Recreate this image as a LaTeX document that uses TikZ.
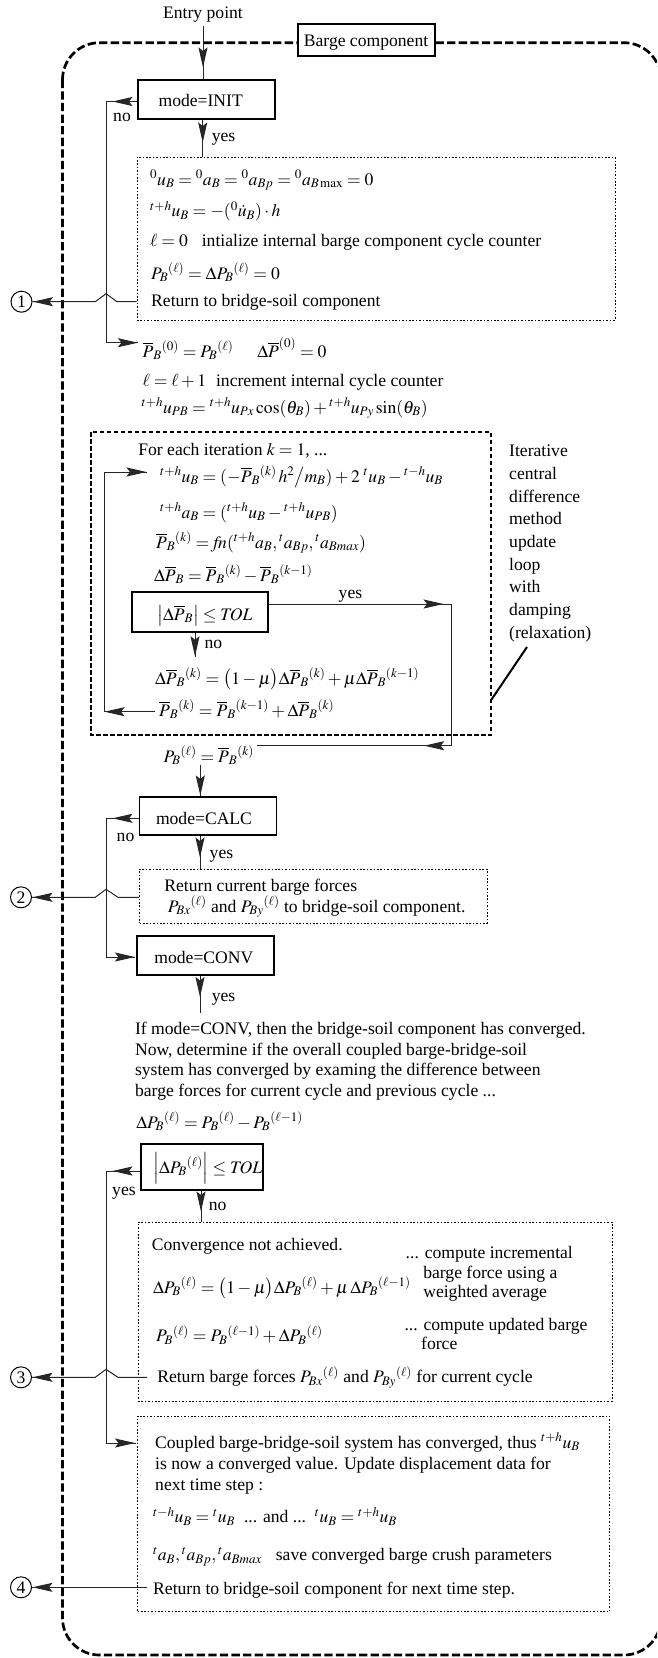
\documentclass[tikz,border=0pt]{standalone}
\usepackage{mathptmx}
\usepackage{fontspec}
\setmainfont{Liberation Serif}
\usetikzlibrary{arrows.meta,decorations.markings,calc}
\newcommand{\myfs}{\fontsize{17.6}{20.5}\selectfont}
\tikzset{
  ah/.style={postaction={decorate,decoration={markings,mark=at position #1 with {\arrow{Stealth[length=20pt,width=9pt,inset=3.5pt]}}}}},
  conn/.style={line width=1pt, black!85},
  tx/.style={anchor=base west, inner sep=0pt},
  sbox/.style={draw, line width=1.1pt, inner sep=0pt},
  dbox/.style={draw, line width=1pt, dash pattern=on 1.6pt off 1.8pt, inner sep=0pt},
  outerdash/.style={draw, line width=2.7pt, dash pattern=on 8.3pt off 3.3pt},
  innerdash/.style={draw, line width=2.8pt, dash pattern=on 4.5pt off 2.5pt},
  circ/.style={circle, draw, line width=1pt, minimum size=21pt, inner sep=0pt},
  every node/.style={font=\myfs}
}
\begin{document}
\begin{tikzpicture}[x=1pt,y=-1pt]
\useasboundingbox (0,0) rectangle (657,1658);
% outer frame
\begin{scope}
\clip (0,0) rectangle (657,1658);
\draw[outerdash, rounded corners=37pt] (62.5,42.7) rectangle (661,1655);
\end{scope}
\node[sbox, fill=white, minimum width=137pt, minimum height=32pt] (barge) at (366.5,40) {};
\node[tx] (bargetx) at (303.7,46.7) {Barge component};
\node[tx, anchor=base] (entry) at (203,18.3) {Entry point};

% boxes
\node[sbox, minimum width=137pt, minimum height=39pt] (init) at (206.5,99.5) {};
\node[tx] (inittx) at (158.4,106.5) {mode=INIT};
\node[dbox, minimum width=478pt, minimum height=163pt] (d1) at (376,238.5) {};
\node[sbox, minimum width=136pt, minimum height=40pt] (tol1) at (200,612) {};
\node[sbox, minimum width=137pt, minimum height=38pt] (calc) at (208,816) {};
\node[tx] (calctx) at (155.8,824) {mode=CALC};
\node[dbox, minimum width=347.5pt, minimum height=54pt] (d2) at (313.25,896) {};
\node[sbox, minimum width=137pt, minimum height=39pt] (conv) at (205.5,955.5) {};
\node[tx] (convtx) at (154.2,963) {mode=CONV};
\node[sbox, minimum width=122pt, minimum height=46pt] (tol2) at (202,1167) {};
\node[dbox, minimum width=474pt, minimum height=179pt] (d3) at (375,1311.5) {};
\node[dbox, minimum width=472pt, minimum height=195.7pt] (d4) at (373.5,1513.85) {};
\draw[innerdash] (91,432) rectangle (491,735);

% circles
\node[circ] (c1) at (21.5,301.7) {1};
\node[circ] (c2) at (21,897.3) {2};
\node[circ] (c3) at (21,1377.3) {3};
\node[circ] (c4) at (21,1587.3) {4};

% box 1 text
\node[tx] (b1) at (150,185) {${}^{0}u_B = {}^{0}a_B = {}^{0}a_{Bp} = {}^{0}a_{B\,\mathrm{max}} = 0$};
\node[tx] (b2) at (150,216.7) {${}^{t+h}u_B = -({}^{0}\dot{u}_B)\cdot h$};
\node[tx] (b3) at (150,246) {$\ell = 0$\hspace{14pt}intialize internal barge component cycle counter};
\node[tx] (b4) at (151,279.3) {$P_B{}^{(\ell)} = \Delta P_B{}^{(\ell)} = 0$};
\node[tx] (b5) at (151,306) {Return to bridge-soil component};

\node[tx] (pbar0) at (142.4,357) {$\overline{P}_B{}^{(0)} = P_B{}^{(\ell)}$\hspace{24pt}$\Delta\overline{P}^{(0)} = 0$};
\node[tx] (cyc) at (142.4,386.7) {$\ell = \ell + 1$\hspace{10pt}increment internal cycle counter};
\node[tx] (upb) at (141.6,413) {${}^{t+h}u_{PB} = {}^{t+h}u_{Px}\cos(\theta_B) + {}^{t+h}u_{Py}\sin(\theta_B)$};

% iteration
\node[tx] (fe) at (138.2,455) {For each iteration $k = 1$, ...};
\node[tx] (it1) at (160,482) {${}^{t+h}u_B = (-\overline{P}_B{}^{(k)}\,h^2\big/ m_B) + 2\;{}^{t}u_B - {}^{t-h}u_B$};
\node[tx] (it2) at (160,518) {${}^{t+h}a_B = ({}^{t+h}u_B - {}^{t+h}u_{PB})$};
\node[tx] (it3) at (155.8,548) {$\overline{P}_B{}^{(k)} = \mathit{fn}({}^{t+h}a_B, {}^{t}a_{Bp}, {}^{t}a_{Bmax})$};
\node[tx] (it4) at (154,581) {$\Delta\overline{P}_B = \overline{P}_B{}^{(k)} - \overline{P}_B{}^{(k-1)}$};
\node[tx] (tol1tx) at (157,620) {$\left|\Delta\overline{P}_B\right| \le \mathit{TOL}$};
\node[tx] (it5) at (155,684) {$\Delta\overline{P}_B{}^{(k)} = \bigl(1-\mu\bigr)\Delta\overline{P}_B{}^{(k)} + \mu\Delta\overline{P}_B{}^{(k-1)}$};
\node[tx] (it6) at (159,716) {$\overline{P}_B{}^{(k)} = \overline{P}_B{}^{(k-1)} + \Delta\overline{P}_B{}^{(k)}$};
\node[tx] (pl) at (163.4,762) {$P_B{}^{(\ell)} = \overline{P}_B{}^{(k)}$};

\foreach \w [count=\i] in {Iterative, central, difference, method, update, loop, with, damping, (relaxation)}
  \node[tx] (s\i) at (509,{456.7+22.7*(\i-1)}) {\w};
\coordinate (ld1) at (527,647);
\coordinate (ld2) at (491.5,699.5);
\draw[line width=2pt] (ld1) -- (ld2);

% box 2
\node[tx] (r2a) at (164.2,891.7) {Return current barge forces};
\node[tx] (r2b) at (167.6,912) {$P_{Bx}{}^{(\ell)}$ and $P_{By}{}^{(\ell)}$ to bridge-soil component.};

% paragraph
\node[tx] (p1) at (134.9,1034) {If mode=CONV, then the bridge-soil component has converged.};
\node[tx] (p2) at (134.9,1055) {Now, determine if the overall coupled barge-bridge-soil};
\node[tx] (p3) at (134.9,1075.5) {system has converged by examing the difference between};
\node[tx] (p4) at (134.9,1096) {barge forces for current cycle and previous cycle ...};
\node[tx] (dpl) at (136.2,1128) {$\Delta P_B{}^{(\ell)} = P_B{}^{(\ell)} - P_B{}^{(\ell-1)}$};
\node[tx] (tol2tx) at (153,1173) {$\left|\Delta P_B{}^{(\ell)}\right| \le \mathit{TOL}$};

% box 3
\node[tx] (q1) at (151.7,1250) {Convergence not achieved.};
\node[tx] (q2) at (405.5,1258) {... compute incremental};
\node[tx] (q3) at (423.1,1278) {barge force using a};
\node[tx] (q4) at (423.1,1297) {weighted average};
\node[tx] (q5) at (152.9,1293) {$\Delta P_B{}^{(\ell)} = \bigl(1-\mu\bigr)\Delta P_B{}^{(\ell)} + \mu\,\Delta P_B{}^{(\ell-1)}$};
\node[tx] (q6) at (404.3,1330) {... compute updated barge};
\node[tx] (q7) at (421,1349) {force};
\node[tx] (q8) at (155.8,1341.7) {$P_B{}^{(\ell)} = P_B{}^{(\ell-1)} + \Delta P_B{}^{(\ell)}$};
\node[tx] (r3) at (157.1,1382.7) {Return barge forces $P_{Bx}{}^{(\ell)}$ and $P_{By}{}^{(\ell)}$ for current cycle};

% box 4
\node[tx] (w1) at (155,1448.3) {Coupled barge-bridge-soil system has converged, thus ${}^{t+h}u_B$};
\node[tx] (w2) at (155,1469.3) {is now a converged value. Update displacement data for};
\node[tx] (w3) at (155,1490) {next time step :};
\node[tx] (w4) at (153,1522.7) {${}^{t-h}u_B = {}^{t}u_B$\ \ ... and ...\ \ ${}^{t}u_B = {}^{t+h}u_B$};
\node[tx] (w5) at (153,1560.7) {${}^{t}a_B, {}^{t}a_{Bp}, {}^{t}a_{Bmax}$\hspace{14pt}save converged barge crush parameters};
\node[tx] (r4) at (153,1594) {Return to bridge-soil component for next time step.};

% labels
\node[tx] (l1) at (113,121.7) {no};
\node[tx] (l2) at (211.6,141.7) {yes};
\node[tx] (l3) at (338.5,598.3) {yes};
\node[tx] (l4) at (204.4,648.3) {no};
\node[tx] (l5) at (116.5,841.7) {no};
\node[tx] (l6) at (209.5,858.3) {yes};
\node[tx] (l7) at (211.6,1001.7) {yes};
\node[tx] (l8) at (112,1195) {yes};
\node[tx] (l9) at (208.6,1210) {no};

% connectors
\draw[conn, ah=-12pt] ([yshift=-4pt]entry.south) -- (entry.south |- init.north);
\draw[conn, ah=-14pt] ([xshift=-3.8pt]init.south) -- ([xshift=-3.8pt]init.south |- d1.north);
\coordinate (v1) at (106,342.7);
\draw[conn, ah=25pt, ah=-0.5pt] ([yshift=-2pt]init.west) -| (v1) -- ($(pbar0.west |- v1)+(-4,0)$);
\coordinate (h1) at (106,301.7);
\draw[conn, ah=-0.5pt] (d1.west |- h1) -- ($(h1)+(11,0)$) -- ($(h1)+(0,-8)$) -- ($(h1)+(-10.7,0)$) -- (c1);

\coordinate (fb1) at (104,711.7);
\coordinate (fb2) at (104,472);
\draw[conn, ah=50.5pt, ah=-0.5pt] ($(it6.west |- fb1)+(-4,0)$) -- (fb1) -- (fb2) -- ($(it1.west |- fb2)+(-13,0)$);

\coordinate (y1) at (451,604);
\coordinate (y2) at (451,745.7);
\draw[conn, ah=175pt, ah=351pt] (tol1.east |- y1) -- (y1) -- (y2) -- ($(pl.east |- y2)+(3,0)$);
\coordinate (n1) at (195,656.7);
\draw[conn, ah=-0.5pt] (tol1.south -| n1) -- (n1);
\draw[conn, ah=-1pt] ([xshift=-7.7pt]calc.north |- pl.south) -- ([xshift=-7.7pt]calc.north);

\coordinate (v2) at (106,957);
\draw[conn, ah=26.5pt, ah=-0.5pt] ([yshift=-2.3pt]calc.west) -| (v2) -- ($(conv.west |- v2)+(-1,0)$);
\draw[conn, ah=-11pt] ([xshift=-8pt]calc.south) -- ([xshift=-8pt]calc.south |- d2.north);
\coordinate (h2) at (106,897.3);
\draw[conn, ah=-0.5pt] (d2.west |- h2) -- ($(h2)+(12,0)$) -- ($(h2)+(0,-8)$) -- ($(h2)+(-10.7,0)$) -- (c2);

\coordinate (cy) at (200,1013);
\draw[conn, ah=-16pt] (conv.south -| cy) -- (cy);

\coordinate (v3) at (106,1443);
\draw[conn, ah=28pt, ah=-0.5pt] ([yshift=-4pt]tol2.west) -| (v3) -- ($(d4.west |- v3)+(-1.5,0)$);
\draw[conn, ah=-10pt] ([xshift=-1pt]tol2.south) -- ([xshift=-1pt]tol2.south |- d3.north);

\coordinate (h3) at (106,1377.3);
\draw[conn, ah=-0.5pt] ($(r3.west |- h3)+(-10,0)$) -- ($(h3)+(12,0)$) -- ($(h3)+(0,-8)$) -- ($(h3)+(-10.7,0)$) -- (c3);
\coordinate (h4) at (106,1587.3);
\draw[conn, ah=-0.5pt] ($(r4.west |- h4)+(-6,0)$) -- (c4);
\end{tikzpicture}
\end{document}
